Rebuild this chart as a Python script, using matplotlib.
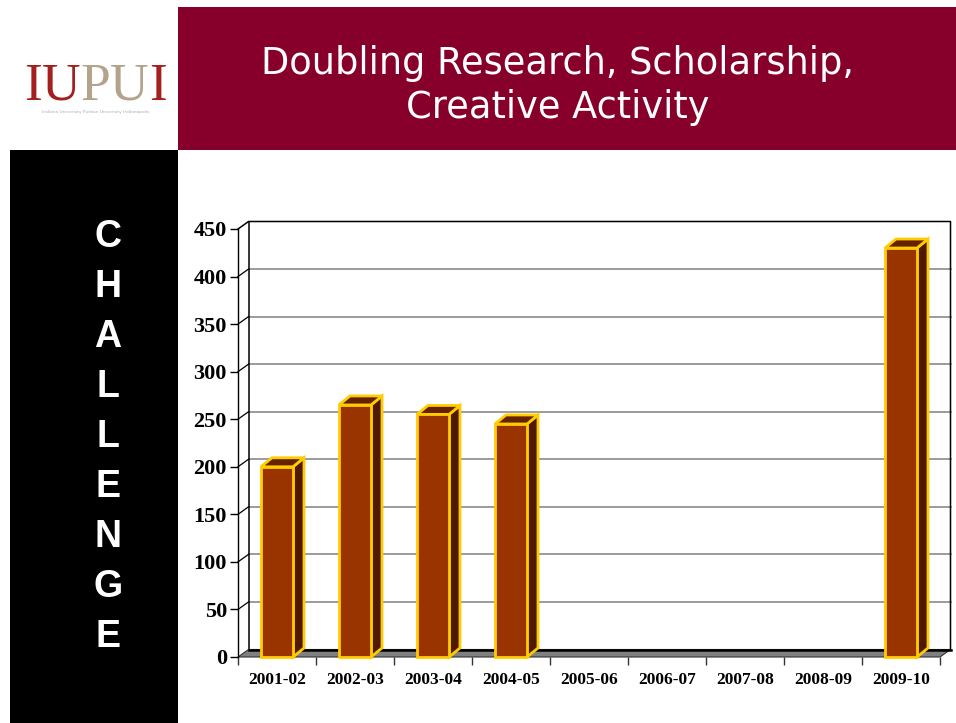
import numpy as np
import matplotlib
matplotlib.use("Agg")
import matplotlib.pyplot as plt
from matplotlib.patches import Rectangle, Polygon

# data
years = ["2001-02", "2002-03", "2003-04", "2004-05", "2005-06",
         "2006-07", "2007-08", "2008-09", "2009-10"]
values = [200, 265, 255, 245, np.nan, np.nan, np.nan, np.nan, 430]
y_ticks = [0, 50, 100, 150, 200, 250, 300, 350, 400, 450]
title_lines = ["Doubling Research, Scholarship,", "Creative Activity"]
side_word = "CHALLENGE"

W, H = 956, 723
fig = plt.figure(figsize=(W / 100, H / 100), dpi=100)
fig.patch.set_facecolor("white")

# background layer in pixel coordinates
bg = fig.add_axes([0, 0, 1, 1])
bg.set_xlim(0, W)
bg.set_ylim(H, 0)
bg.axis("off")
bg.add_patch(Rectangle((178, 7), W - 178, 143, color="#87002B", lw=0))
bg.add_patch(Rectangle((10, 150), 168, H - 150, color="black", lw=0))

bg.text(558, 63, title_lines[0], color="white", fontsize=26.5,
        family="DejaVu Sans", ha="center", va="center")
bg.text(558, 107, title_lines[1], color="white", fontsize=26.5,
        family="DejaVu Sans", ha="center", va="center")

for i, ch in enumerate(side_word):
    bg.text(108, 237 + i * 50, ch, color="white", fontsize=27, fontweight="bold",
            family="Liberation Sans", ha="center", va="center")

# logo, one text per letter so each can take its own colour
logo_cols = ["#A3201F", "#A3201F", "#B3A38A", "#B3A38A", "#A3201F"]
x0 = 24
for ch, c in zip("IUPUI", logo_cols):
    t = bg.text(x0, 100, ch, color=c, fontsize=38.5, family="Liberation Serif",
                ha="left", va="baseline")
    fig.canvas.draw()
    x0 += t.get_window_extent().width
bg.text(96, 112, "Indiana University Purdue University Indianapolis",
        color="#A8AEBE", fontsize=3.2, ha="center", va="center")

# chart axes (front plane)
ax = fig.add_axes([238 / W, (H - 657) / H, 702 / W, 428 / H])
ax.set_xlim(0, 9)
ax.set_ylim(0, 450)
ax.patch.set_alpha(0)
for s in ["top", "right", "bottom"]:
    ax.spines[s].set_visible(False)
ax.spines["left"].set_linewidth(1)

px_x = 702 / 9
px_y = 428 / 450
DX, DY = 10.5 / px_x, 7.5 / px_y     # wall depth
BDX, BDY = 11 / px_x, 9 / px_y       # bar depth
bw = 32 / px_x

# back wall
ax.add_patch(Rectangle((DX, DY), 9, 450, facecolor="white", edgecolor="none",
                       zorder=0, clip_on=False))
for yv in y_ticks[1:-1]:
    ax.plot([DX, 9 + DX], [yv + DY, yv + DY], color="#808080", lw=1.1,
            zorder=1, clip_on=False)
    ax.plot([0, DX], [yv, yv + DY], color="black", lw=0.9, zorder=1, clip_on=False)
ax.plot([0, DX, 9 + DX, 9 + DX], [450, 450 + DY, 450 + DY, DY],
        color="black", lw=1.1, zorder=1, clip_on=False)
ax.plot([DX, DX], [DY, 450 + DY], color="black", lw=1.1, zorder=1, clip_on=False)

# floor
ax.add_patch(Polygon([(0, 0), (9, 0), (9 + DX, DY), (DX, DY)], closed=True,
                     facecolor="#808080", edgecolor="#333333", lw=0.8,
                     zorder=2, clip_on=False))
ax.plot([DX, 9 + DX], [DY, DY], color="black", lw=1.8, zorder=2, clip_on=False)

# bars: side and top faces first, then the front face
gold = "#FFCC00"
xc = np.arange(len(years)) + 0.5
for x, v in zip(xc, values):
    if np.isnan(v):
        continue
    r = x + bw / 2
    l = x - bw / 2
    ax.add_patch(Polygon([(r, 0), (r, v), (r + BDX, v + BDY), (r + BDX, BDY)],
                         closed=True, facecolor="#4F1A00", edgecolor=gold,
                         lw=2, zorder=3, clip_on=False))
    ax.add_patch(Polygon([(l, v), (r, v), (r + BDX, v + BDY), (l + BDX, v + BDY)],
                         closed=True, facecolor="#662200", edgecolor=gold,
                         lw=2, zorder=3, clip_on=False))
ax.bar(xc, values, width=bw, color="#993300", edgecolor=gold, linewidth=2,
       zorder=4, clip_on=False)

# ticks
ax.set_yticks(y_ticks)
ax.set_yticklabels([str(v) for v in y_ticks], fontsize=16, fontweight="bold",
                   family="Liberation Serif")
ax.tick_params(axis="y", length=6, width=1, pad=2)
ax.set_xticks(xc)
ax.set_xticklabels(years, fontsize=12.5, fontweight="bold", family="Liberation Serif")
ax.tick_params(axis="x", length=0, pad=11)
ax.set_xticks(np.arange(10), minor=True)
ax.tick_params(axis="x", which="minor", length=6, width=1, color="#333333")

fig.savefig("out.png", dpi=100)
